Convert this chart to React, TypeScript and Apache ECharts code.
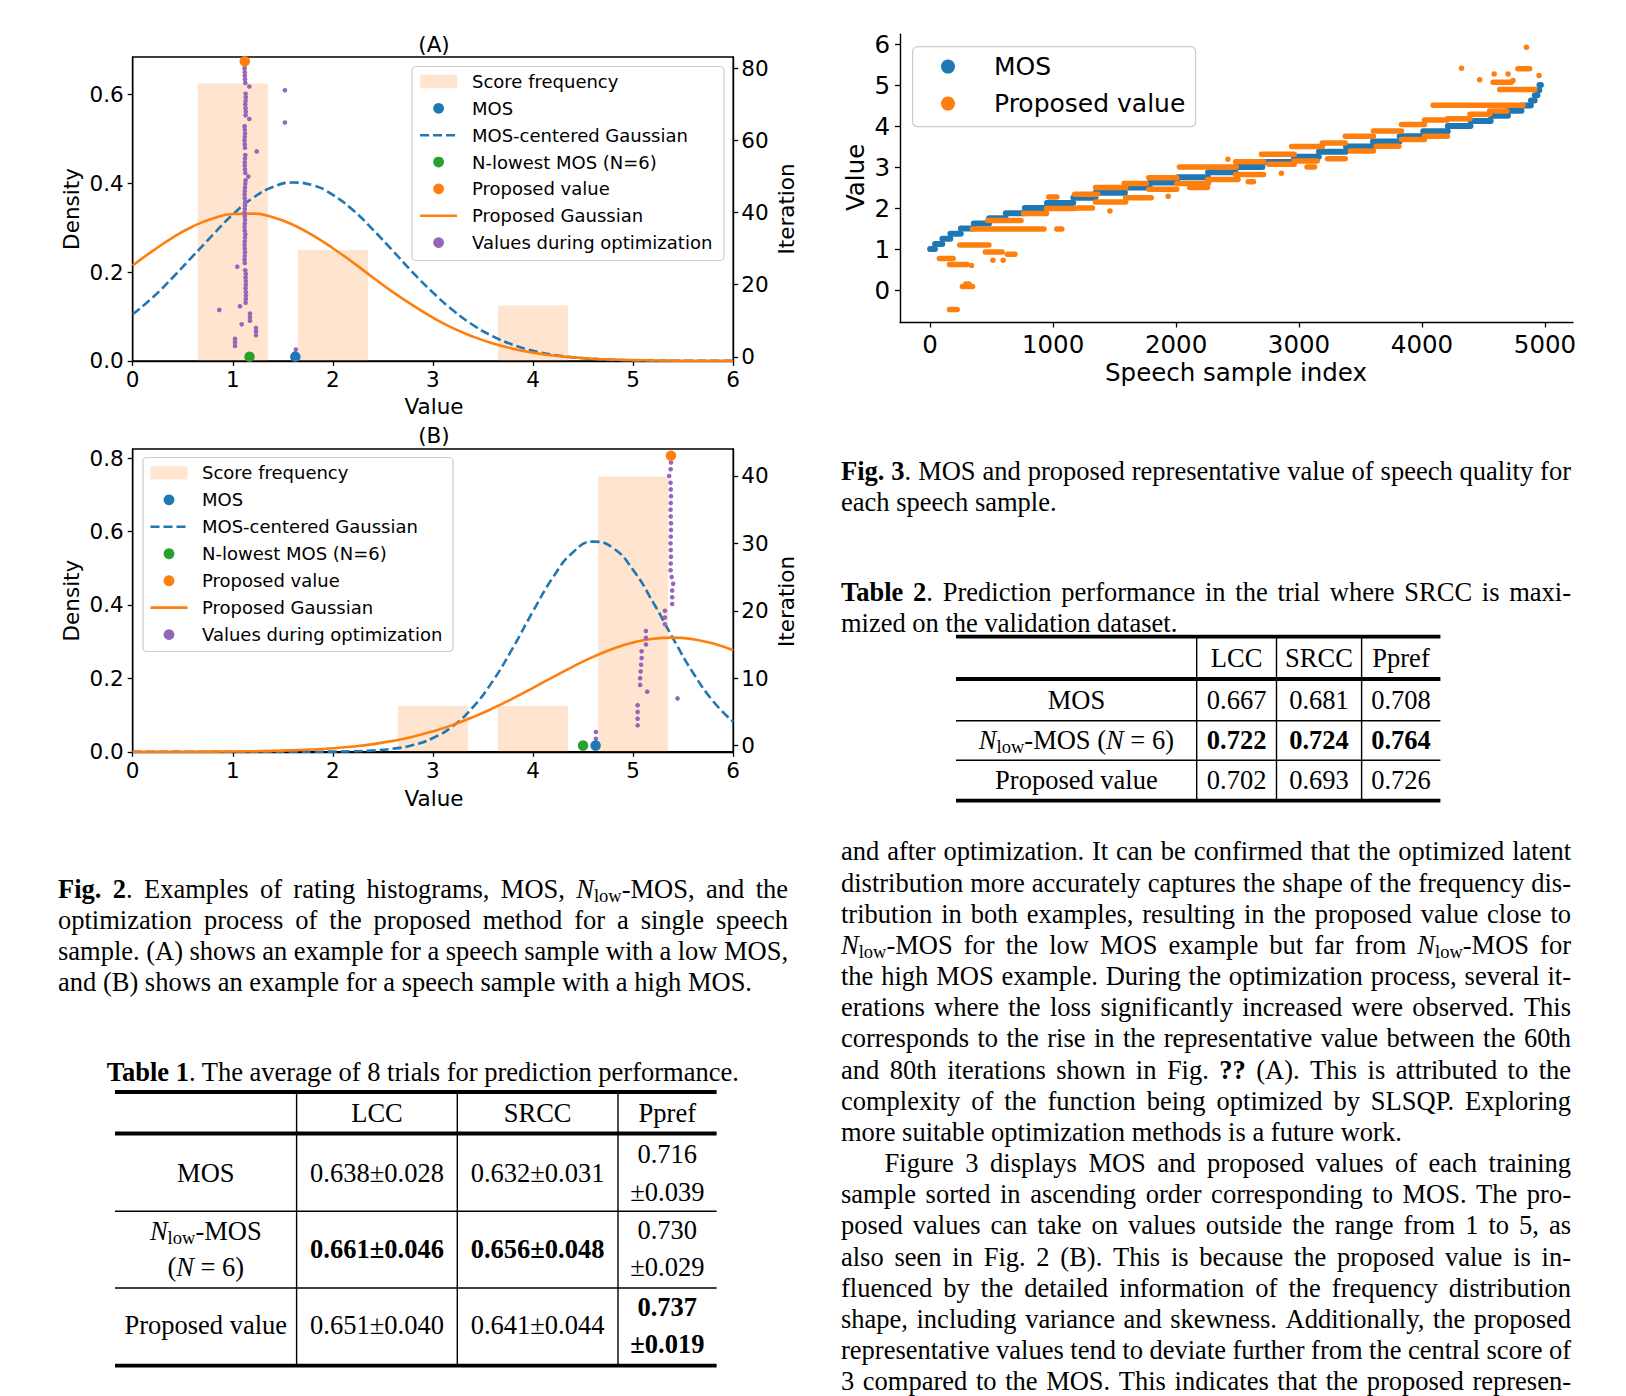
import React, { useEffect, useRef } from "react";
import * as echarts from "echarts";

/* ================= Fig. 2 (A) : low-MOS example ================= */
const scoreValuesA = [1, 2, 4];
const scoreDensityA = [0.625, 0.25, 0.125];
const gaussX = [0, 0.2, 0.4, 0.6, 0.8, 1, 1.2, 1.4, 1.6, 1.8, 2, 2.2, 2.4, 2.6, 2.8, 3, 3.2, 3.4, 3.6, 3.8, 4, 4.2, 4.4, 4.6, 4.8, 5, 5.2, 5.4, 5.6, 5.8, 6];
const mosGaussA = [0.105, 0.143, 0.188, 0.236, 0.284, 0.33, 0.367, 0.392, 0.402, 0.396, 0.374, 0.34, 0.296, 0.248, 0.199, 0.154, 0.114, 0.081, 0.0554, 0.0363, 0.0229, 0.0138, 0.008, 0.0045, 0.0024, 0.0012, 0.0006, 0.0003, 0.0001, 0.0001, 0];
const propGaussA = [0.215, 0.248, 0.278, 0.303, 0.321, 0.331, 0.332, 0.324, 0.307, 0.283, 0.254, 0.222, 0.188, 0.155, 0.125, 0.0975, 0.074, 0.0547, 0.0393, 0.0275, 0.0187, 0.0123, 0.0079, 0.005, 0.003, 0.0018, 0.001, 0.0006, 0.0003, 0.0002, 0.0001];
const mosA = 1.625;
const nLowMosA = 1.167;
const proposedA = 1.12;
const finalIterA = 82;
// value at iteration 1, 2, 3, ...
const optValuesA = [
  1.625, 1.63, 1.022, 1.022, 1.022, 1.232, 1.232, 1.232, 1.089, 1.172, 1.172, 1.172, 0.865, 1.072,
  1.128, 1.13, 1.132, 1.13, 1.128, 1.13, 1.13, 1.128, 1.13, 1.125,
  1.045,
  1.12, 1.118, 1.12, 1.122, 1.12, 1.118, 1.12, 1.122, 1.125, 1.12, 1.118, 1.12, 1.122, 1.12, 1.118, 1.12, 1.122, 1.125, 1.12, 1.118, 1.12, 1.122, 1.125, 1.128,
  1.155,
  1.125, 1.122, 1.12, 1.12, 1.122, 1.125,
  1.239,
  1.122, 1.12, 1.118, 1.12, 1.122, 1.12, 1.118,
  1.521,
  1.165,
  1.128, 1.13, 1.128, 1.125, 1.128, 1.13, 1.128,
  1.521,
  1.165,
  1.125, 1.122, 1.12, 1.12, 1.118, 1.12,
];

/* ================= Fig. 2 (B) : high-MOS example ================= */
const scoreValuesB = [3, 4, 5];
const scoreDensityB = [0.125, 0.125, 0.75];
const mosGaussB = [0, 0, 0, 0, 0, 0, 0, 0, 0.0001, 0.0002, 0.0005, 0.0013, 0.0035, 0.0083, 0.0184, 0.0375, 0.0704, 0.1217, 0.1937, 0.2838, 0.3829, 0.4755, 0.5438, 0.5726, 0.5552, 0.4956, 0.4073, 0.3083, 0.2148, 0.1378, 0.0814];
const propGaussB = [0.0001, 0.0001, 0.0002, 0.0003, 0.0005, 0.0009, 0.0015, 0.0025, 0.0041, 0.0063, 0.0097, 0.0144, 0.0209, 0.0297, 0.0412, 0.0557, 0.0734, 0.0945, 0.1188, 0.1457, 0.1744, 0.2037, 0.2323, 0.2585, 0.2808, 0.2977, 0.308, 0.311, 0.3065, 0.2948, 0.2767];
const mosB = 4.625;
const nLowMosB = 4.5;
const proposedB = 5.378;
const finalIterB = 43;
const optValuesB = [
  4.628, 4.628, 5.045, 5.045, 5.045, 5.045, 5.444, 5.141, 5.07, 5.07, 5.075, 5.08, 5.085, 5.085,
  5.128, 5.128, 5.128, 5.318, 5.318, 5.318, 5.39, 5.39, 5.39, 5.4, 5.385,
  5.374, 5.376, 5.378, 5.376, 5.374, 5.376, 5.378, 5.378, 5.376, 5.374, 5.376, 5.378, 5.376, 5.374,
  5.36, 5.375, 5.378,
];

/* ================= Fig. 3 : MOS and proposed value per sample ================= */
const mosLevels = [1, 1.125, 1.25, 1.375, 1.5, 1.625, 1.75, 1.875, 2, 2.125, 2.25, 2.375, 2.5, 2.625, 2.75, 2.875, 3, 3.125, 3.25, 3.375, 3.5, 3.625, 3.75, 3.875, 4, 4.125, 4.25, 4.375, 4.5, 4.625, 4.75, 4.875, 5];
const mosRunEnd = [40, 100, 165, 250, 355, 480, 615, 770, 950, 1165, 1345, 1585, 1788, 2012, 2260, 2485, 2703, 2957, 3162, 3382, 3601, 3818, 4010, 4210, 4395, 4560, 4700, 4810, 4886, 4917, 4940, 4955, 4968];
// [first index, last index, proposed value]
const proposedRuns = [
  [75, 187, 0.77], [158, 300, 0.625], [336, 336, 0.6], [262, 345, 0.09], [290, 315, 0.15], [158, 220, -0.47],
  [241, 478, 1.1], [449, 585, 0.93], [511, 511, 0.73], [594, 594, 0.73], [627, 690, 0.876], [345, 926, 1.49],
  [1030, 1071, 1.49], [469, 739, 1.7], [760, 947, 1.87], [947, 1175, 1.99], [965, 1030, 2.27], [1175, 1362, 2.34],
  [1196, 1320, 2.0], [1345, 1590, 2.5], [1345, 1590, 2.15], [1462, 1462, 1.93], [1578, 1757, 2.6], [1590, 1798, 2.25],
  [1778, 2006, 2.74], [1778, 2006, 2.46], [1936, 1936, 2.29], [2027, 2490, 3.0], [2006, 2263, 2.6], [2110, 2255, 2.5],
  [2255, 2504, 2.7], [2421, 2421, 3.19], [2587, 2629, 2.64], [2484, 2712, 3.13], [2484, 2712, 2.82], [2695, 2961, 3.31],
  [2753, 2961, 3.07], [2857, 2857, 2.85], [2940, 3190, 3.5], [2961, 3148, 3.15], [3065, 3127, 3.0], [3190, 3376, 3.59],
  [3231, 3376, 3.2], [3376, 3605, 3.75], [3418, 3605, 3.39], [3605, 3833, 3.88], [3626, 3812, 3.51], [3833, 4020, 4.04],
  [3833, 4020, 3.67], [4020, 4207, 4.15], [4020, 4207, 3.75], [4090, 4822, 4.51], [4207, 4390, 4.18], [4390, 4550, 4.29],
  [4550, 4690, 4.37], [4632, 4917, 4.89], [4578, 4727, 5.07], [4321, 4321, 5.41], [4469, 4469, 5.13], [4587, 4587, 5.27],
  [4700, 4700, 5.27], [4740, 4740, 5.11], [4780, 4875, 5.4], [4952, 4952, 5.23], [4849, 4849, 5.92],
];

/* ================= tick labels ================= */
const valueTicks = [0, 1, 2, 3, 4, 5, 6];
const densityTicksA = [0, 0.2, 0.4, 0.6];
const iterTicksA = [0, 20, 40, 60, 80];
const densityTicksB = [0, 0.2, 0.4, 0.6, 0.8];
const iterTicksB = [0, 10, 20, 30, 40];
const indexTicks = [0, 1000, 2000, 3000, 4000, 5000];
const fig3ValueTicks = [0, 1, 2, 3, 4, 5, 6];

/* ================= legends ================= */
const fig2LegendNames = ["Score frequency", "MOS", "MOS-centered Gaussian", "N-lowest MOS (N=6)", "Proposed value", "Proposed Gaussian", "Values during optimization"];
const fig3LegendNames = ["MOS", "Proposed value"];

/* ================= tables ================= */
const tableHeads = ["LCC", "SRCC", "Ppref"];
const t1Mos = ["0.638±0.028", "0.632±0.031", "0.716", "±0.039"];
const t1Nlow = ["0.661±0.046", "0.656±0.048", "0.730", "±0.029"];
const t1Prop = ["0.651±0.040", "0.641±0.044", "0.737", "±0.019"];
const t2Mos = ["0.667", "0.681", "0.708"];
const t2Nlow = ["0.722", "0.724", "0.764"];
const t2Prop = ["0.702", "0.693", "0.726"];

/* ================= style ================= */
const C_BLUE = "#1f77b4";
const C_ORANGE = "#ff7f0e";
const C_GREEN = "#2ca02c";
const C_PURPLE = "#9467bd";
const C_BAR = "rgba(255,127,14,0.2)";
const SERIF = '"Liberation Serif", "Times New Roman", serif';
const SANS = '"DejaVu Sans", sans-serif';
const FS = 26.5;
const BAR_W = 0.7;

type Kind = "n" | "b" | "i" | "s";
type Seg = { t: string; k?: Kind };
const KINDS: Record<string, { size: number; weight: string; style: string; dy: number }> = {
  n: { size: FS, weight: "normal", style: "normal", dy: 0 },
  b: { size: FS, weight: "bold", style: "normal", dy: 0 },
  i: { size: FS, weight: "normal", style: "italic", dy: 0 },
  s: { size: FS * 0.7, weight: "normal", style: "normal", dy: FS * 0.26 },
};

let ctx: CanvasRenderingContext2D | null = null;
function measure(t: string, k: Kind): number {
  if (!ctx) ctx = document.createElement("canvas").getContext("2d");
  const f = KINDS[k];
  ctx!.font = `${f.style} ${f.weight} ${f.size}px "Liberation Serif"`;
  return ctx!.measureText(t).width;
}

function textEl(t: string, k: Kind, x: number, y: number) {
  const f = KINDS[k];
  return {
    type: "text", x, y: y + f.dy, silent: true, z: 20,
    style: {
      text: t, fontFamily: SERIF, fontSize: f.size, fontWeight: f.weight, fontStyle: f.style,
      fill: "#000", align: "left", verticalAlign: "middle", textAlign: "left", textVerticalAlign: "middle",
    },
  };
}

function layoutLine(segs: Seg[], x: number, y: number, opt: { width?: number; center?: boolean } = {}) {
  const els: any[] = [];
  if (!opt.width) {
    const ws = segs.map((s) => measure(s.t, s.k || "n"));
    const W = ws.reduce((a, b) => a + b, 0);
    let cx = opt.center ? x - W / 2 : x;
    segs.forEach((s, i) => {
      els.push(textEl(s.t, s.k || "n", cx, y));
      cx += ws[i];
    });
    return els;
  }
  const pieces: { t: string; k: Kind; w: number; gap: boolean }[] = [];
  segs.forEach((s) => {
    const k = s.k || "n";
    s.t.split(" ").forEach((p, j) => {
      if (j > 0 && pieces.length) pieces[pieces.length - 1].gap = true;
      if (p.length) pieces.push({ t: p, k, w: measure(p, k), gap: false });
    });
  });
  pieces[pieces.length - 1].gap = false;
  const Wp = pieces.reduce((a, p) => a + p.w, 0);
  const G = pieces.filter((p) => p.gap).length;
  const gap = (opt.width - Wp) / Math.max(G, 1);
  let cx = x;
  pieces.forEach((p) => {
    els.push(textEl(p.t, p.k, cx, y));
    cx += p.w + (p.gap ? gap : 0);
  });
  return els;
}

function sansText(t: string, x: number, y: number, size: number, rotate = false) {
  return {
    type: "text", x, y, rotation: rotate ? Math.PI / 2 : 0, silent: true, z: 20,
    style: {
      text: t, fontFamily: SANS, fontSize: size, fill: "#000",
      align: "center", verticalAlign: "middle", textAlign: "center", textVerticalAlign: "middle",
    },
  };
}

function hline(x1: number, x2: number, y: number, w: number) {
  return { type: "line", silent: true, z: 15, shape: { x1, y1: y, x2, y2: y }, style: { stroke: "#000", lineWidth: w } };
}
function vline(x: number, y1: number, y2: number, w: number) {
  return { type: "line", silent: true, z: 15, shape: { x1: x, y1, x2: x, y2 }, style: { stroke: "#000", lineWidth: w } };
}

function fig2Legend(bx: number, by: number, bw: number, bh: number, row0: number, rowGap: number, mx: number, tx: number) {
  const els: any[] = [
    { type: "rect", silent: true, z: 18, shape: { x: bx, y: by, width: bw, height: bh, r: 4 }, style: { fill: "rgba(255,255,255,0.8)", stroke: "#cccccc", lineWidth: 1.2 } },
  ];
  const kinds = ["patch", C_BLUE, "dash", C_GREEN, C_ORANGE, "line", C_PURPLE];
  fig2LegendNames.forEach((name, i) => {
    const y = row0 + i * rowGap;
    const k = kinds[i];
    if (k === "patch") els.push({ type: "rect", silent: true, z: 19, shape: { x: mx - 18.5, y: y - 6.7, width: 37, height: 13.4 }, style: { fill: C_BAR } });
    else if (k === "dash") els.push({ type: "line", silent: true, z: 19, shape: { x1: mx - 18.5, y1: y, x2: mx + 18.5, y2: y }, style: { stroke: C_BLUE, lineWidth: 2.6, lineDash: [9, 4] } });
    else if (k === "line") els.push({ type: "line", silent: true, z: 19, shape: { x1: mx - 18.5, y1: y, x2: mx + 18.5, y2: y }, style: { stroke: C_ORANGE, lineWidth: 2.6 } });
    else els.push({ type: "circle", silent: true, z: 19, shape: { cx: mx, cy: y, r: 5.4 }, style: { fill: k } });
    els.push({
      type: "text", x: tx, y, silent: true, z: 20,
      style: { text: name, fontFamily: SANS, fontSize: 18, fill: "#000", align: "left", verticalAlign: "middle", textAlign: "left", textVerticalAlign: "middle" },
    });
  });
  return els;
}

function histRender(params: any, api: any) {
  const v = api.value(0);
  const h = api.value(1);
  const p0 = api.coord([v - BAR_W / 2, h]);
  const p1 = api.coord([v + BAR_W / 2, 0]);
  return { type: "rect", shape: { x: p0[0], y: p0[1], width: p1[0] - p0[0], height: p1[1] - p0[1] }, style: { fill: C_BAR } };
}

function runRender(color: string, d: number) {
  return (params: any, api: any) => {
    const p0 = api.coord([api.value(0), api.value(2)]);
    const p1 = api.coord([api.value(1), api.value(2)]);
    return {
      type: "rect",
      shape: { x: p0[0] - d / 2, y: p0[1] - d / 2, width: p1[0] - p0[0] + d, height: d, r: d / 2 },
      style: { fill: color },
    };
  };
}

function fig2Series(tag: string, xi: number, yd: number, yi: number, sv: number[], sd: number[], mg: number[], pg: number[], mos: number, nlow: number, prop: number, fin: number, opt: number[]) {
  return [
    { name: tag + "Score frequency", type: "custom", xAxisIndex: xi, yAxisIndex: yd, data: sv.map((v, i) => [v, sd[i]]), encode: { x: 0, y: 1 }, renderItem: histRender, z: 1, silent: true },
    { name: tag + "MOS-centered Gaussian", type: "line", xAxisIndex: xi, yAxisIndex: yd, data: gaussX.map((x, i) => [x, mg[i]]), symbol: "none", showSymbol: false, smooth: 0.5, lineStyle: { color: C_BLUE, width: 2.6, type: [9, 4], cap: "butt", join: "round" }, z: 2, silent: true },
    { name: tag + "Proposed Gaussian", type: "line", xAxisIndex: xi, yAxisIndex: yd, data: gaussX.map((x, i) => [x, pg[i]]), symbol: "none", showSymbol: false, smooth: 0.5, lineStyle: { color: C_ORANGE, width: 2.6, join: "round" }, z: 2, silent: true },
    { name: tag + "Values during optimization", type: "scatter", xAxisIndex: xi, yAxisIndex: yi, data: opt.map((v, i) => [v, i + 1]), symbolSize: 4.6, itemStyle: { color: C_PURPLE, opacity: 1 }, z: 3, silent: true },
    { name: tag + "MOS", type: "scatter", xAxisIndex: xi, yAxisIndex: yi, data: [[mos, 0]], symbolSize: 10.5, itemStyle: { color: C_BLUE, opacity: 1 }, z: 4, silent: true },
    { name: tag + "N-lowest MOS (N=6)", type: "scatter", xAxisIndex: xi, yAxisIndex: yi, data: [[nlow, 0]], symbolSize: 10.5, itemStyle: { color: C_GREEN, opacity: 1 }, z: 4, silent: true },
    { name: tag + "Proposed value", type: "scatter", xAxisIndex: xi, yAxisIndex: yi, data: [[prop, fin]], symbolSize: 10.5, itemStyle: { color: C_ORANGE, opacity: 1 }, z: 4, silent: true },
  ];
}

function axis(fs: number, margin: number, ticks: number[], extra: any = {}, fmt?: (v: number) => string) {
  return {
    type: "value",
    splitLine: { show: false },
    axisLine: { show: true, onZero: false, lineStyle: { color: "#000", width: 1.4 } },
    axisTick: { show: true, inside: false, length: 5, lineStyle: { color: "#000", width: 1.3 }, customValues: ticks },
    axisLabel: { color: "#000", fontFamily: SANS, fontSize: fs, margin, customValues: ticks, formatter: fmt || ((v: number) => String(v)), showMinLabel: true, showMaxLabel: true, hideOverlap: false },
    ...extra,
  };
}

function buildOption() {
  const fmt1 = (v: number) => v.toFixed(1);
  const mosRuns = mosLevels.map((lv, i) => [i === 0 ? 0 : mosRunEnd[i - 1], mosRunEnd[i] - 1, lv]);

  const graphic: any[] = [];
  // Fig. 2 titles and axis names
  graphic.push(sansText("(A)", 434, 44, 21.5));
  graphic.push(sansText("Value", 434, 406, 21.5));
  graphic.push(sansText("Density", 71.5, 209, 21.5, true));
  graphic.push(sansText("Iteration", 786, 209, 21.5, true));
  graphic.push(sansText("(B)", 434, 435, 21.5));
  graphic.push(sansText("Value", 434, 798, 21.5));
  graphic.push(sansText("Density", 71.5, 600.6, 21.5, true));
  graphic.push(sansText("Iteration", 786, 601.5, 21.5, true));
  graphic.push(...fig2Legend(412, 66.5, 312, 194, 81.5, 26.85, 438.6, 472));
  graphic.push(...fig2Legend(143, 457.5, 310, 194, 472.9, 26.95, 169, 202));
  // Fig. 3 axis names and legend
  graphic.push(sansText("Speech sample index", 1236, 372.3, 24.5));
  graphic.push(sansText("Value", 855, 177.4, 24.5, true));
  graphic.push({ type: "rect", silent: true, z: 18, shape: { x: 912.6, y: 46.7, width: 283, height: 80, r: 5 }, style: { fill: "rgba(255,255,255,0.8)", stroke: "#cccccc", lineWidth: 1.2 } });
  [C_BLUE, C_ORANGE].forEach((c, i) => {
    const y = 66.6 + i * 37;
    graphic.push({ type: "circle", silent: true, z: 19, shape: { cx: 948, cy: y, r: 7 }, style: { fill: c } });
    graphic.push({ type: "text", x: 994, y, silent: true, z: 20, style: { text: fig3LegendNames[i], fontFamily: SANS, fontSize: 25, fill: "#000", align: "left", verticalAlign: "middle", textAlign: "left", textVerticalAlign: "middle" } });
  });

  // Captions (left column)
  const LX = 58, LW = 730;
  graphic.push(...layoutLine([{ t: "Fig. 2", k: "b" }, { t: ". Examples of rating histograms, MOS, " }, { t: "N", k: "i" }, { t: "low", k: "s" }, { t: "-MOS, and the" }], LX, 888.7, { width: LW }));
  graphic.push(...layoutLine([{ t: "optimization process of the proposed method for a single speech" }], LX, 919.9, { width: LW }));
  graphic.push(...layoutLine([{ t: "sample. (A) shows an example for a speech sample with a low MOS," }], LX, 951.0, { width: LW }));
  graphic.push(...layoutLine([{ t: "and (B) shows an example for a speech sample with a high MOS." }], LX, 982.2));
  graphic.push(...layoutLine([{ t: "Table 1", k: "b" }, { t: ". The average of 8 trials for prediction performance." }], 423, 1072, { center: true }));

  // Table 1
  const t1x = [115, 296.6, 457.3, 618, 716.6];
  const c1 = [205.8, 377, 537.6, 667.3];
  graphic.push(hline(t1x[0], t1x[4], 1092, 3.8));
  graphic.push(hline(t1x[0], t1x[4], 1133.5, 3.8));
  graphic.push(hline(t1x[0], t1x[4], 1211.2, 1.4));
  graphic.push(hline(t1x[0], t1x[4], 1288, 1.4));
  graphic.push(hline(t1x[0], t1x[4], 1365.7, 3.8));
  [1, 2, 3].forEach((i) => graphic.push(vline(t1x[i], 1092, 1365.7, 1.4)));
  tableHeads.forEach((h, i) => graphic.push(...layoutLine([{ t: h }], c1[i + 1], 1112.7, { center: true })));
  graphic.push(...layoutLine([{ t: "MOS" }], c1[0], 1172.8, { center: true }));
  graphic.push(...layoutLine([{ t: t1Mos[0] }], c1[1], 1172.8, { center: true }));
  graphic.push(...layoutLine([{ t: t1Mos[1] }], c1[2], 1172.8, { center: true }));
  graphic.push(...layoutLine([{ t: t1Mos[2] }], c1[3], 1154.2, { center: true }));
  graphic.push(...layoutLine([{ t: t1Mos[3] }], c1[3], 1191.5, { center: true }));
  graphic.push(...layoutLine([{ t: "N", k: "i" }, { t: "low", k: "s" }, { t: "-MOS" }], c1[0], 1231, { center: true }));
  graphic.push(...layoutLine([{ t: "(" }, { t: "N", k: "i" }, { t: " = 6)" }], c1[0], 1267.2, { center: true }));
  graphic.push(...layoutLine([{ t: t1Nlow[0], k: "b" }], c1[1], 1248.5, { center: true }));
  graphic.push(...layoutLine([{ t: t1Nlow[1], k: "b" }], c1[2], 1248.5, { center: true }));
  graphic.push(...layoutLine([{ t: t1Nlow[2] }], c1[3], 1229.9, { center: true }));
  graphic.push(...layoutLine([{ t: t1Nlow[3] }], c1[3], 1267.2, { center: true }));
  graphic.push(...layoutLine([{ t: "Proposed value" }], c1[0], 1325.3, { center: true }));
  graphic.push(...layoutLine([{ t: t1Prop[0] }], c1[1], 1325.3, { center: true }));
  graphic.push(...layoutLine([{ t: t1Prop[1] }], c1[2], 1325.3, { center: true }));
  graphic.push(...layoutLine([{ t: t1Prop[2], k: "b" }], c1[3], 1306.6, { center: true }));
  graphic.push(...layoutLine([{ t: t1Prop[3], k: "b" }], c1[3], 1344, { center: true }));

  // Right column captions
  const RX = 841, RW = 730;
  graphic.push(...layoutLine([{ t: "Fig. 3", k: "b" }, { t: ". MOS and proposed representative value of speech quality for" }], RX, 470.8, { width: RW }));
  graphic.push(...layoutLine([{ t: "each speech sample." }], RX, 501.9));
  graphic.push(...layoutLine([{ t: "Table 2", k: "b" }, { t: ". Prediction performance in the trial where SRCC is maxi-" }], RX, 592.1, { width: RW }));
  graphic.push(...layoutLine([{ t: "mized on the validation dataset." }], RX, 623.2));

  // Table 2
  const t2x = [956, 1196.7, 1276.5, 1361.6, 1440.4];
  const c2 = [1076.4, 1236.6, 1319, 1401];
  graphic.push(hline(t2x[0], t2x[4], 636.7, 3.8));
  graphic.push(hline(t2x[0], t2x[4], 679, 3.8));
  graphic.push(hline(t2x[0], t2x[4], 720.7, 1.4));
  graphic.push(hline(t2x[0], t2x[4], 760.3, 1.4));
  graphic.push(hline(t2x[0], t2x[4], 800.6, 3.8));
  [1, 2, 3].forEach((i) => graphic.push(vline(t2x[i], 636.7, 800.6, 1.4)));
  tableHeads.forEach((h, i) => graphic.push(...layoutLine([{ t: h }], c2[i + 1], 657.8, { center: true })));
  graphic.push(...layoutLine([{ t: "MOS" }], c2[0], 700, { center: true }));
  graphic.push(...layoutLine([{ t: "N", k: "i" }, { t: "low", k: "s" }, { t: "-MOS (" }, { t: "N", k: "i" }, { t: " = 6)" }], c2[0], 739.6, { center: true }));
  graphic.push(...layoutLine([{ t: "Proposed value" }], c2[0], 779.6, { center: true }));
  [0, 1, 2].forEach((i) => {
    graphic.push(...layoutLine([{ t: t2Mos[i] }], c2[i + 1], 700, { center: true }));
    graphic.push(...layoutLine([{ t: t2Nlow[i], k: "b" }], c2[i + 1], 739.6, { center: true }));
    graphic.push(...layoutLine([{ t: t2Prop[i] }], c2[i + 1], 779.6, { center: true }));
  });

  // Body text
  const body: { segs: Seg[]; just: boolean; indent?: number }[] = [
    { segs: [{ t: "and after optimization. It can be confirmed that the optimized latent" }], just: true },
    { segs: [{ t: "distribution more accurately captures the shape of the frequency dis-" }], just: true },
    { segs: [{ t: "tribution in both examples, resulting in the proposed value close to" }], just: true },
    { segs: [{ t: "N", k: "i" }, { t: "low", k: "s" }, { t: "-MOS for the low MOS example but far from " }, { t: "N", k: "i" }, { t: "low", k: "s" }, { t: "-MOS for" }], just: true },
    { segs: [{ t: "the high MOS example. During the optimization process, several it-" }], just: true },
    { segs: [{ t: "erations where the loss significantly increased were observed. This" }], just: true },
    { segs: [{ t: "corresponds to the rise in the representative value between the 60th" }], just: true },
    { segs: [{ t: "and 80th iterations shown in Fig. " }, { t: "??", k: "b" }, { t: " (A). This is attributed to the" }], just: true },
    { segs: [{ t: "complexity of the function being optimized by SLSQP. Exploring" }], just: true },
    { segs: [{ t: "more suitable optimization methods is a future work." }], just: false },
    { segs: [{ t: "Figure 3 displays MOS and proposed values of each training" }], just: true, indent: 43.6 },
    { segs: [{ t: "sample sorted in ascending order corresponding to MOS. The pro-" }], just: true },
    { segs: [{ t: "posed values can take on values outside the range from 1 to 5, as" }], just: true },
    { segs: [{ t: "also seen in Fig. 2 (B). This is because the proposed value is in-" }], just: true },
    { segs: [{ t: "fluenced by the detailed information of the frequency distribution" }], just: true },
    { segs: [{ t: "shape, including variance and skewness. Additionally, the proposed" }], just: true },
    { segs: [{ t: "representative values tend to deviate further from the central score of" }], just: true },
    { segs: [{ t: "3 compared to the MOS. This indicates that the proposed represen-" }], just: true },
  ];
  body.forEach((ln, i) => {
    const ind = ln.indent || 0;
    const y = 851.4 + i * 31.17;
    graphic.push(...layoutLine(ln.segs, RX + ind, y, ln.just ? { width: RW - ind } : {}));
  });

  const gridCommon = { show: true, borderColor: "#000", borderWidth: 1.4, backgroundColor: "transparent", containLabel: false, outerBoundsMode: "none" };

  return {
    animation: false,
    backgroundColor: "#ffffff",
    tooltip: { show: false },
    grid: [
      { ...gridCommon, left: 132.7, top: 57, width: 600.5, height: 303.9 },
      { ...gridCommon, left: 132.7, top: 449, width: 600.5, height: 302.8 },
      { left: 900, top: 34.2, width: 673, height: 288.3, show: false, containLabel: false, outerBoundsMode: "none" },
    ],
    xAxis: [
      axis(21.5, 8, valueTicks, { gridIndex: 0, min: 0, max: 6 }),
      axis(21.5, 8, valueTicks, { gridIndex: 1, min: 0, max: 6 }),
      axis(24.5, 9.5, indexTicks, { gridIndex: 2, min: -245, max: 5228 }),
    ],
    yAxis: [
      axis(21.5, 9, densityTicksA, { gridIndex: 0, min: 0, max: 0.685, position: "left" }, fmt1),
      axis(21.5, 8, iterTicksA, { gridIndex: 0, min: -1.15, max: 83.2, position: "right" }),
      axis(21.5, 9, densityTicksB, { gridIndex: 1, min: 0, max: 0.825, position: "left" }, fmt1),
      axis(21.5, 8, iterTicksB, { gridIndex: 1, min: -0.92, max: 44.0, position: "right" }),
      axis(24.5, 10, fig3ValueTicks, { gridIndex: 2, min: -0.79, max: 6.24, position: "left" }),
    ],
    series: [
      ...fig2Series("A:", 0, 0, 1, scoreValuesA, scoreDensityA, mosGaussA, propGaussA, mosA, nLowMosA, proposedA, finalIterA, optValuesA),
      ...fig2Series("B:", 1, 2, 3, scoreValuesB, scoreDensityB, mosGaussB, propGaussB, mosB, nLowMosB, proposedB, finalIterB, optValuesB),
      { name: "F:MOS", type: "custom", xAxisIndex: 2, yAxisIndex: 4, data: mosRuns, encode: { x: [0, 1], y: 2 }, renderItem: runRender(C_BLUE, 6), z: 2, silent: true },
      { name: "F:Proposed value", type: "custom", xAxisIndex: 2, yAxisIndex: 4, data: proposedRuns, encode: { x: [0, 1], y: 2 }, renderItem: runRender(C_ORANGE, 5.5), z: 3, silent: true },
    ],
    graphic,
  };
}

export default function App() {
  const ref = useRef<HTMLDivElement>(null);
  useEffect(() => {
    if (!ref.current) return;
    const chart = echarts.init(ref.current, null, { renderer: "svg", width: 1626, height: 1396 });
    chart.setOption(buildOption() as any);
    return () => chart.dispose();
  }, []);
  return <div ref={ref} style={{ position: "absolute", left: 0, top: 0, width: 1626, height: 1396, background: "#fff" }} />;
}
